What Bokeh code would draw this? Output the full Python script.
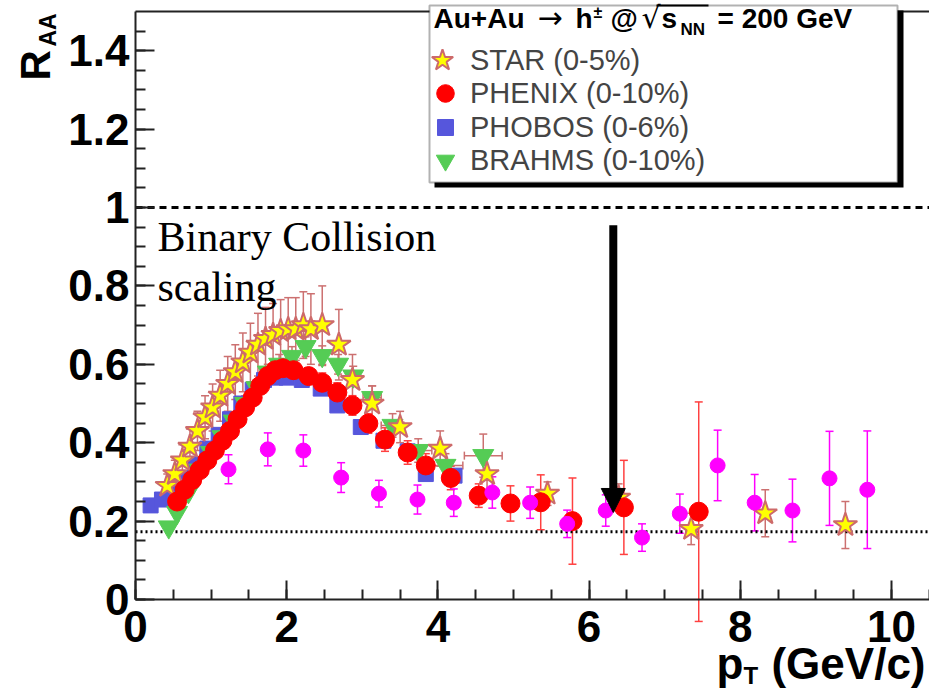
from bokeh.plotting import figure
from bokeh.models import (ColumnDataSource, Whisker, TeeHead, Arrow, NormalHead,
                          Label, BoxAnnotation, Legend, LegendItem, SingleIntervalTicker,
                          CustomJSTickFormatter)
from bokeh.embed import file_html
from bokeh.resources import INLINE
import math

# ---- data: nuclear modification factor R_AA vs pT (GeV/c) ----
star_pt = [0.42, 0.52, 0.62, 0.72, 0.82, 0.92, 1.02, 1.12, 1.22, 1.32, 1.42, 1.52, 1.62, 1.72,
           1.82, 1.92, 2.02, 2.12, 2.22, 2.32, 2.47, 2.69, 2.87, 3.13, 3.50, 4.03, 4.65, 5.45,
           6.39, 7.35, 8.33, 9.39]
star_raa = [0.29, 0.32, 0.355, 0.39, 0.43, 0.465, 0.49, 0.52, 0.55, 0.58, 0.605, 0.63, 0.65,
            0.665, 0.675, 0.685, 0.69, 0.69, 0.70, 0.69, 0.70, 0.65, 0.56, 0.50, 0.44, 0.385, 0.32,
            0.27, 0.26, 0.18, 0.22, 0.19]
star_err = [0.03, 0.035, 0.04, 0.045, 0.05, 0.055, 0.06, 0.065, 0.07, 0.07, 0.075, 0.075, 0.08,
            0.08, 0.08, 0.08, 0.08, 0.08, 0.085, 0.09, 0.10, 0.09, 0.065, 0.045, 0.04, 0.045, 0.05,
            0.03, 0.035, 0.04, 0.06, 0.06]

phenix_pt = [0.55, 0.65, 0.75, 0.85, 0.95, 1.05, 1.15, 1.25, 1.35, 1.45, 1.55, 1.65, 1.75, 1.85,
             1.95, 2.09, 2.29, 2.47, 2.67, 2.87, 3.08, 3.30, 3.60, 3.84, 4.17, 4.54, 4.96, 5.36,
             5.78, 6.46, 7.45]
phenix_raa = [0.25, 0.28, 0.305, 0.33, 0.355, 0.38, 0.405, 0.43, 0.46, 0.49, 0.515, 0.545, 0.57,
              0.585, 0.59, 0.585, 0.57, 0.553, 0.528, 0.495, 0.449, 0.408, 0.375, 0.342, 0.31,
              0.265, 0.245, 0.248, 0.20, 0.235, 0.224]
phenix_err = [0.015, 0.015, 0.015, 0.015, 0.015, 0.015, 0.015, 0.015, 0.015, 0.015, 0.02, 0.02,
              0.02, 0.02, 0.02, 0.02, 0.02, 0.025, 0.025, 0.025, 0.025, 0.03, 0.03, 0.03, 0.03,
              0.03, 0.045, 0.07, 0.11, 0.12, 0.28]

phobos_pt = [0.20, 0.35, 0.50, 0.65, 0.80, 0.95, 1.10, 1.25, 1.40, 1.55, 1.70, 1.85, 2.00, 2.20,
             2.45, 2.67, 2.98, 3.28, 3.60, 3.84, 4.22]
phobos_raa = [0.24, 0.255, 0.275, 0.31, 0.345, 0.385, 0.42, 0.46, 0.50, 0.535, 0.56, 0.566, 0.566,
              0.56, 0.538, 0.495, 0.44, 0.405, 0.378, 0.32, 0.316]

brahms_pt = [0.44, 0.55, 0.70, 0.85, 1.00, 1.15, 1.30, 1.45, 1.60, 1.75, 1.90, 2.07, 2.25, 2.47,
             2.68, 2.88, 3.13, 3.40, 3.74, 4.10, 4.60]
brahms_raa = [0.185, 0.222, 0.275, 0.33, 0.375, 0.415, 0.455, 0.50, 0.54, 0.58, 0.60, 0.62, 0.645,
              0.622, 0.60, 0.57, 0.515, 0.444, 0.38, 0.342, 0.367]
brahms_yerr = [0.01, 0.01, 0.01, 0.015, 0.015, 0.015, 0.02, 0.02, 0.02, 0.02, 0.025, 0.025, 0.025,
               0.025, 0.025, 0.025, 0.03, 0.03, 0.03, 0.03, 0.055]
brahms_xerr = [0, 0, 0, 0, 0, 0, 0, 0, 0, 0, 0, 0, 0, 0, 0, 0, 0.12, 0.15, 0.18, 0.23, 0.25]

mag_pt = [1.23, 1.75, 2.22, 2.72, 3.22, 3.73, 4.21, 4.72, 5.22, 5.71, 6.22, 6.70, 7.20, 7.70,
          8.19, 8.69, 9.18, 9.68]
mag_raa = [0.332, 0.383, 0.38, 0.311, 0.27, 0.255, 0.247, 0.273, 0.247, 0.193, 0.227, 0.158,
           0.219, 0.342, 0.247, 0.227, 0.309, 0.28]
mag_err = [0.037, 0.042, 0.04, 0.038, 0.034, 0.037, 0.035, 0.04, 0.04, 0.035, 0.04, 0.035, 0.05,
           0.09, 0.072, 0.08, 0.12, 0.15]

binary_scaling = 1.0       # R_AA = 1 : binary collision scaling
suppression_level = 0.173  # dotted reference level
arrow_pt = 6.32
arrow_from, arrow_to = 0.955, 0.222

# visible axis extents; the frame spans the whole canvas and the axes sit at 0
X_MAX, Y_MAX = 10.5, 1.5
X_VIEW = (-1.7857, 10.5026)
Y_VIEW = (-0.23214, 1.52806)

W, H = 929, 690
FONT = "Liberation Sans"
STAR_ERR = "#cc7070"
PHENIX_ERR = "#ff4040"
AXIS_COLOR = "#222222"

p = figure(width=W, height=H, x_range=X_VIEW, y_range=Y_VIEW,
           output_backend="svg", toolbar_location=None,
           min_border_left=0, min_border_right=0, min_border_top=0, min_border_bottom=0)
p.outline_line_color = None
p.grid.visible = False
p.background_fill_color = "white"
p.border_fill_color = "white"

# axes crossing at the origin, ticks drawn inward
p.xaxis.fixed_location = 0
p.yaxis.fixed_location = 0
p.xaxis.bounds = (0, X_MAX)
p.yaxis.bounds = (0, Y_MAX)
p.xaxis.ticker = SingleIntervalTicker(interval=2, num_minor_ticks=4)
p.yaxis.ticker = SingleIntervalTicker(interval=0.2, num_minor_ticks=4)
p.yaxis.formatter = CustomJSTickFormatter(code="""
    const r = Math.round(tick);
    if (Math.abs(tick - r) < 1e-6) return r.toString();
    return tick.toFixed(1);
""")
for ax in (p.xaxis[0], p.yaxis[0]):
    ax.axis_line_color = AXIS_COLOR
    ax.axis_line_width = 2
    ax.major_tick_line_color = AXIS_COLOR
    ax.minor_tick_line_color = AXIS_COLOR
    ax.major_tick_line_width = 2
    ax.minor_tick_line_width = 2
    ax.major_tick_out = 0
    ax.minor_tick_out = 0
    ax.major_tick_in = 19
    ax.minor_tick_in = 10
    ax.major_label_text_font = FONT
    ax.major_label_text_font_style = "bold"
    ax.major_label_text_color = "black"
p.xaxis.major_label_text_font_size = "44px"
p.yaxis.major_label_text_font_size = "44px"
p.xaxis.major_label_standoff = 11
p.yaxis.major_label_standoff = 6

# top frame line and reference levels
p.segment(x0=[0], y0=[Y_MAX], x1=[X_VIEW[1]], y1=[Y_MAX], line_color=AXIS_COLOR, line_width=2)
p.segment(x0=[0], y0=[binary_scaling], x1=[X_VIEW[1]], y1=[binary_scaling],
          line_color="black", line_width=3, line_dash="7 5")
p.segment(x0=[0], y0=[suppression_level], x1=[X_VIEW[1]], y1=[suppression_level],
          line_color="black", line_width=3, line_dash="2 3")


def tee(color, width):
    return TeeHead(size=8, line_color=color, line_width=width)


def vbars(xs, ys, errs, color, width=1.5):
    src = ColumnDataSource(dict(x=xs, up=[y + e for y, e in zip(ys, errs)],
                                lo=[y - e for y, e in zip(ys, errs)]))
    p.add_layout(Whisker(source=src, base="x", upper="up", lower="lo", line_color=color,
                         line_width=width, upper_head=tee(color, width),
                         lower_head=tee(color, width)))


def hbars(xs, ys, errs, color, width=1.5):
    sel = [(x, y, e) for x, y, e in zip(xs, ys, errs) if e > 0]
    src = ColumnDataSource(dict(y=[s[1] for s in sel], up=[s[0] + s[2] for s in sel],
                                lo=[s[0] - s[2] for s in sel]))
    p.add_layout(Whisker(source=src, base="y", upper="up", lower="lo", dimension="width",
                         line_color=color, line_width=width, upper_head=tee(color, width),
                         lower_head=tee(color, width)))


vbars(star_pt, star_raa, star_err, STAR_ERR)
vbars(phenix_pt, phenix_raa, phenix_err, PHENIX_ERR)
vbars(brahms_pt, brahms_raa, brahms_yerr, STAR_ERR)
hbars(brahms_pt, brahms_raa, brahms_xerr, STAR_ERR)
vbars(mag_pt, mag_raa, mag_err, "#ff00ff")

r_phobos = p.scatter(phobos_pt, phobos_raa, marker="square", size=15,
                     fill_color="#5656dc", line_color="#5656dc")
r_brahms = p.scatter(brahms_pt, brahms_raa, marker="inverted_triangle", size=21,
                     fill_color="#55cc55", line_color="#55cc55")
r_star = p.scatter(star_pt, star_raa, marker="star", size=25,
                   fill_color="#ffff00", line_color="#cd6a6a", line_width=2)
r_phenix = p.scatter(phenix_pt, phenix_raa, marker="circle", size=19,
                     fill_color="#ff0000", line_color="#ff0000")
p.scatter(mag_pt, mag_raa, marker="circle", size=15, fill_color="#ff00ff", line_color="#ff00ff")

# arrow pointing to the high-pT suppression level
p.add_layout(Arrow(end=NormalHead(size=24, fill_color="black", line_color="black"),
                   x_start=arrow_pt, y_start=arrow_from, x_end=arrow_pt, y_end=arrow_to,
                   line_color="black", line_width=8))


# text helpers; (cx, cy) are canvas pixels of the text baseline start
def text_at(cx, cy, text, size, font=FONT, style="bold", angle=0.0, align="left"):
    shift = 0.365 * size
    if angle:
        x, y = cx - shift, H - cy
    else:
        x, y = cx, H - cy + shift
    p.add_layout(Label(x=x, y=y, x_units="screen", y_units="screen", text=text,
                       text_font=font, text_font_style=style, text_font_size=f"{size}px",
                       text_baseline="alphabetic", text_align=align, angle=angle,
                       text_color="black"))


text_at(157, 252, "Binary Collision", 42, font="Liberation Serif", style="normal")
text_at(157, 302, "scaling", 42, font="Liberation Serif", style="normal")


def screen_box(left, right, top, bottom, **kw):
    p.add_layout(BoxAnnotation(left=left, right=right, top=H - top, bottom=H - bottom,
                               left_units="screen", right_units="screen", top_units="screen",
                               bottom_units="screen", **kw))


# legend frame with drop shadow
screen_box(434, 903, 10, 187, fill_color="black", fill_alpha=1, line_color=None)
screen_box(429, 897, 5, 182, fill_color="white", fill_alpha=1, line_color="black", line_width=2)

# one legend per entry so the rows can sit closer than the symbol boxes
entries = [(r_star, "STAR (0-5%)", 56, 442, 60), (r_phenix, "PHENIX (0-10%)", 44, 445, 93),
           (r_phobos, "PHOBOS (0-6%)", 40, 445, 127), (r_brahms, "BRAHMS (0-10%)", 46, 445, 160)]
for rend, lab, box, cx, cy in entries:
    p.add_layout(Legend(items=[LegendItem(label=lab, renderers=[rend])],
                        location=(cx - box / 2, H - (cy + box / 2)),
                        padding=0, margin=0, glyph_width=box, glyph_height=box,
                        label_standoff=max(0, int(470 - (cx + box / 2))),
                        label_text_font=FONT, label_text_font_size="29px",
                        background_fill_alpha=0, border_line_color=None))

# legend header:  Au+Au -> h± @ sqrt(s_NN) = 200 GeV
text_at(433, 28, "Au+Au", 28)
text_at(537, 28, "\u2192", 30, font="DejaVu Sans", style="normal")
text_at(575, 28, "h", 28)
text_at(593, 18, "\u00b1", 16)
text_at(610, 28, "@", 28)
text_at(641, 28, "\u221a", 30, font="DejaVu Sans", style="normal")
text_at(661, 28, "s", 28)
text_at(680, 35, "NN", 17)
text_at(717, 28, "= 200 GeV", 28)
screen_box(656, 708, 4, 6, fill_color="black", fill_alpha=1, line_color=None)

# axis titles
text_at(50, 80, "R", 42, angle=math.pi / 2)
text_at(56, 46, "AA", 23, angle=math.pi / 2)
text_at(716, 679, "p", 44)
text_at(743, 684, "T", 24)
text_at(925, 679, "(GeV/c)", 44, align="right")

open("out.html", "w").write(file_html(p, INLINE))
